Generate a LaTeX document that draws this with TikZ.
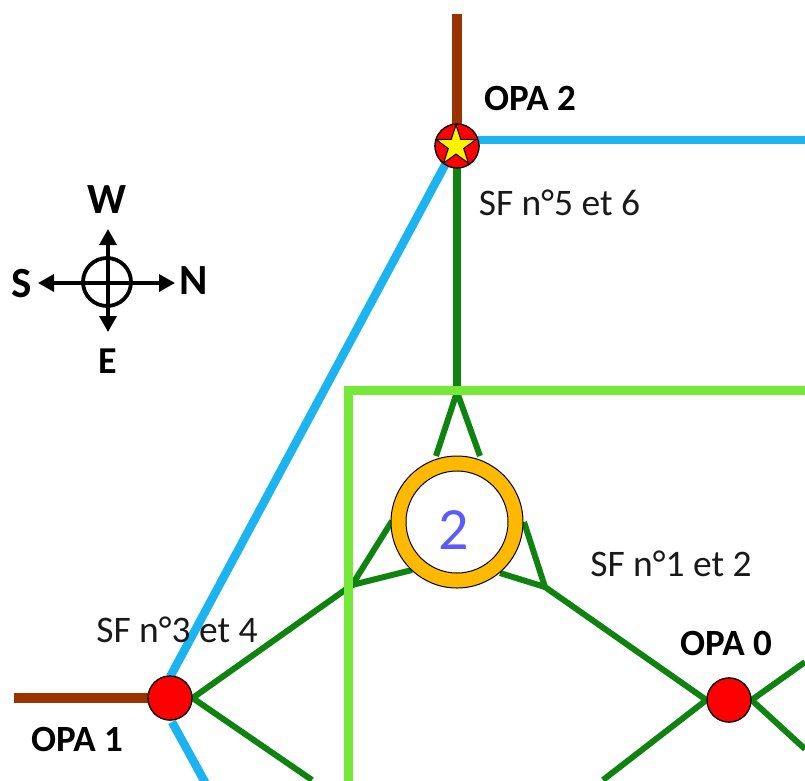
\documentclass[tikz,border=0pt]{standalone}
\usepackage{fontspec}
\setmainfont{Carlito}
\usetikzlibrary{shapes.geometric,arrows.meta}
\definecolor{brownl}{HTML}{993300}
\definecolor{bluel}{HTML}{1CB4F0}
\definecolor{greend}{HTML}{0F830F}
\definecolor{greenl}{HTML}{76E838}
\definecolor{ringc}{HTML}{FFB900}
\definecolor{numc}{HTML}{5A5AFF}
\tikzset{
  brownline/.style={draw=brownl,line width=10.5pt},
  blueline/.style={draw=bluel,line width=8.5pt},
  gline/.style={draw=greend,line width=6pt},
  gtrunk/.style={draw=greend,line width=7.5pt},
  lgline/.style={draw=greenl,line width=9pt,line cap=rect},
  opa/.style={circle,draw=black,line width=1.2pt,fill=red,minimum size=44pt,inner sep=0pt},
  sflabel/.style={font=\fontsize{37.5}{40}\selectfont,text=black!90,inner sep=0pt},
  opalabel/.style={font=\fontsize{37}{40}\selectfont\bfseries,text=black,inner sep=0pt},
  comp/.style={font=\fontsize{43}{45}\selectfont\bfseries,text=black,inner sep=0pt},
  comparrow/.style={draw=black,line width=3.4pt,{Triangle[length=16pt,width=17pt]}-{Triangle[length=16pt,width=17pt]}},
}
\begin{document}
\begin{tikzpicture}[x=1pt,y=-1pt]
\useasboundingbox (0,0) rectangle (805,780);
% anchors
\coordinate (topB) at (457,14);
\coordinate (leftB) at (14,698);
\coordinate (blueE) at (805,140);
\coordinate (blueS) at (206,784);
\coordinate (blueA) at (170,677);
\coordinate (blueB) at (445,165);
\coordinate (blueC) at (172,722);
\coordinate (trunkT) at (457,392);
\coordinate (tl) at (436,456);
\coordinate (tr) at (480,456);
\coordinate (jl) at (352,585);
\coordinate (jr) at (545,587);
\coordinate (rl1) at (392,521);
\coordinate (rl2) at (412,570);
\coordinate (rr1) at (524,522);
\coordinate (rr2) at (500,573);
\coordinate (b1) at (312,780);
\coordinate (b0) at (603,780);
\coordinate (e1) at (805,662);
\coordinate (e2) at (805,749);
\coordinate (lgc) at (348,390);
\coordinate (lgb) at (348,780);
\coordinate (lge) at (805,390);
\node[opa] (o2) at (457,146) {};
\node[opa] (o1) at (170,698) {};
\node[opa] (o0) at (729,700) {};
% lines
\draw[brownline] (topB) -- (o2.center);
\draw[brownline] (leftB) -- (o1.center);
\draw[blueline] (o2.center |- blueE) -- (blueE);
\draw[blueline] (blueB) -- (blueA);
\draw[blueline] (blueC) -- (blueS);
\draw[gtrunk] (o2.center) -- (trunkT);
\draw[gline] (trunkT) -- (tl);
\draw[gline] (trunkT) -- (tr);
\draw[gline] (o1.east) -- (jl) -- (rl1);
\draw[gline] (jl) -- (rl2);
\draw[gline] (o0.west) -- (jr) -- (rr1);
\draw[gline] (jr) -- (rr2);
\draw[gline] (o1.east) -- (b1);
\draw[gline] (o0.west) -- (b0);
\draw[gline] (o0.east) -- (e1);
\draw[gline] (o0.east) -- (e2);
\draw[lgline] (lgb) -- (lgc) -- (lge);
% redraw stations over lines
\node[opa] at (o2.center) {};
\node[opa] at (o1.center) {};
\node[opa] at (o0.center) {};
\node[star,star points=5,star point ratio=2.6,draw=black,line width=1pt,fill=yellow,minimum size=42pt,inner sep=0pt] (st) at (456,146) {};
% ring
\node[circle,draw=black,line width=1pt,fill=ringc,minimum size=132pt,inner sep=0pt] (ro) at (457,522) {};
\node[circle,draw=black,line width=1pt,fill=white,minimum size=102pt,inner sep=0pt] (rw) at (457,522) {};
\node[text=numc,font=\fontsize{60}{62}\selectfont,inner sep=0pt] (rn) at (454,530) {2};
% labels
\node[opalabel] (l2) at (530,98) {OPA 2};
\node[opalabel] (l1) at (77,739) {OPA 1};
\node[opalabel] (l0) at (726,643) {OPA 0};
\node[sflabel] (s56) at (559.5,203) {SF n°5 et 6};
\node[sflabel] (s12) at (671,564) {SF n°1 et 2};
\node[sflabel] (s34) at (177,630) {SF n°3 et 4};
% compass
\coordinate (cn) at (108,229);
\coordinate (cs) at (108,332);
\coordinate (cw) at (38,283);
\coordinate (ce) at (175,283);
\draw[comparrow] (cn) -- (cs);
\draw[comparrow] (cw) -- (ce);
\node[circle,draw=black,line width=3.8pt,minimum size=48pt,inner sep=0pt] (cc) at (107,282) {};
\node[comp] (W) at (107,200) {W};
\node[comp] (S) at (22,284) {S};
\node[comp] (N) at (194,281) {N};
\node[comp,font=\fontsize{38}{40}\selectfont\bfseries] (E) at (108,361) {E};
\end{tikzpicture}
\end{document}
